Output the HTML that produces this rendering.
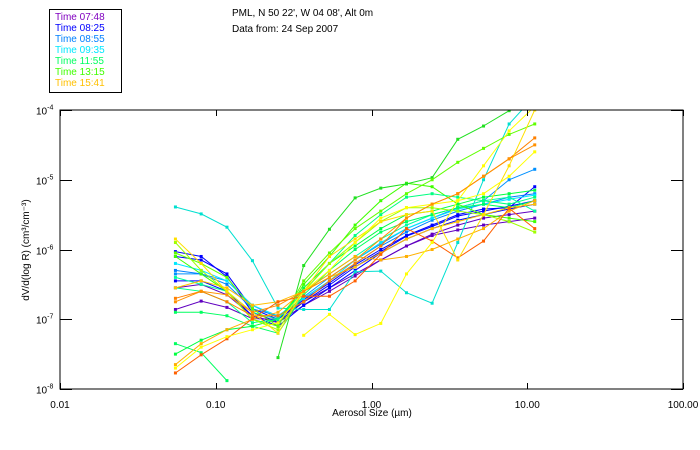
<!DOCTYPE html>
<html><head><meta charset="utf-8">
<style>
body{margin:0;background:#fff;}
svg{display:block;font-family:"Liberation Sans",sans-serif;}
</style></head>
<body>
<svg id="chart" width="700" height="450" viewBox="0 0 700 450" xmlns="http://www.w3.org/2000/svg">
<rect x="0" y="0" width="700" height="450" fill="#fff"/>
<g>
<rect x="49.5" y="9.5" width="72" height="83" fill="#fff" stroke="#000" stroke-width="1"/>
<g id="legendItems" font-size="10"></g>
</g>
<text x="232" y="16" font-size="10">PML, N 50 22', W 04 08', Alt 0m</text>
<text x="232" y="32" font-size="10">Data from: 24 Sep 2007</text>
<defs><clipPath id="plotClip"><rect x="60" y="110" width="623" height="279"/></clipPath></defs>
<g id="series" clip-path="url(#plotClip)"></g>
<rect x="60" y="110" width="623" height="279" fill="none" stroke="#000" stroke-width="1"/>
<g id="axes" font-size="10"></g>
<text x="372" y="416" font-size="10" text-anchor="middle">Aerosol Size (µm)</text>
<text transform="translate(29,250) rotate(-90)" font-size="10" text-anchor="middle">dV/d(log R) (cm³/cm⁻³)</text>
</svg>
<script>
const sizes = [0.0551,0.0806,0.118,0.172,0.251,0.367,0.537,0.785,1.147,1.677,2.45,3.58,5.24,7.65,11.17];
const xTicks = [0.01,0.1,1,10,100];
const xTickLabels = ["0.01","0.10","1.00","10.00","100.00"];
const yTickExps = [-4,-5,-6,-7,-8];
const legendLabels = ["Time 07:48","Time 08:25","Time 08:55","Time 09:35","Time 11:55","Time 13:15","Time 15:41"];
const legendColors = ["#8000c0","#0000ff","#0080ff","#00e8ff","#00ff60","#40ff00","#ffc000"];
const seriesColors = ["#6000c0","#6000c0","#0000ff","#0000ff","#0000ff","#0080ff","#0090ff","#00e0d0","#00e8ff","#00ffa0","#00ff60","#00ff60","#40ff00","#00ff40","#20e020","#60ff00","#00ff80","#a0ff00","#ffc000","#ffb000","#ff6000","#ff8000","#ffff00","#ffe000","#ffff00","#ff9000"];
const s01 = [-6.86,-6.74,-6.83,-6.99,-7.0,-6.75,-6.55,-6.35,-6.15,-5.95,-5.80,-5.72,-5.65,-5.60,-5.55];
const s02 = [-6.55,-6.5,-6.65,-6.95,-7.05,-6.8,-6.6,-6.38,-6.15,-5.95,-5.78,-5.65,-5.55,-5.5,-5.45];
const s03 = [-6.03,-6.10,-6.39,-6.90,-7.04,-6.75,-6.51,-6.25,-6.03,-5.81,-5.67,-5.52,-5.45,-5.38,-5.30];
const s04 = [-6.45,-6.45,-6.6,-6.95,-7.1,-6.8,-6.55,-6.3,-6.05,-5.85,-5.7,-5.58,-5.5,-5.42,-5.35];
const s05 = [-6.1,-6.15,-6.35,-6.85,-7.0,-6.72,-6.48,-6.22,-6.0,-5.8,-5.65,-5.5,-5.42,-5.4,-5.1];
const s06 = [-6.3,-6.35,-6.5,-6.85,-6.95,-6.7,-6.45,-6.2,-5.95,-5.75,-5.58,-5.45,-5.35,-5.25,-5.2];
const s07 = [-6.35,-6.35,-6.45,-6.8,-6.98,-6.68,-6.4,-6.15,-5.92,-5.7,-5.55,-5.4,-5.3,-5.0,-4.85];
const s08 = [-5.39,-5.49,-5.68,-6.16,-6.84,-6.86,-6.86,-6.32,-6.31,-6.62,-6.77,-5.9,-5.0,-4.2,-3.8];
const s09 = [-6.2,-6.3,-6.45,-6.8,-6.95,-6.7,-6.45,-6.15,-5.9,-5.7,-5.55,-5.42,-5.35,-5.28,-5.22];
const s10 = [-6.4,-6.5,-6.6,-6.9,-7.0,-6.6,-6.35,-6.1,-5.85,-5.65,-5.5,-5.4,-5.3,-5.25,-5.45];
const s11 = [-7.35,-7.48,-7.88,null,null,null,null,null,null,null,null,null,null,null,null];
const s12 = [-6.9,-6.9,-6.95,-7.1,-7.2,-6.65,-6.3,-6.0,-5.75,-5.6,-5.5,-5.4,-5.35,-5.4,-5.3];
const s13 = [-6.1,-6.35,-6.6,-7.0,-7.1,-6.5,-6.1,-5.65,-5.3,-5.05,-5.1,-5.35,-5.5,-5.55,-5.6];
const s14 = [-7.5,-7.3,-7.15,-7.1,-7.0,-6.55,-6.2,-5.95,-5.7,-5.5,-5.45,-5.35,-5.25,-5.2,-5.15];
const s15 = [null,null,null,null,-7.55,-6.23,-5.71,-5.26,-5.12,-5.06,-4.97,-4.42,-4.23,-4.01,-3.9];
const s16 = [-6.05,-6.2,-6.4,-6.85,-7.1,-6.45,-6.05,-5.7,-5.45,-5.2,-5.0,-4.75,-4.55,-4.35,-4.2];
const s17 = [-6.55,-6.6,-6.75,-7.05,-7.0,-6.6,-6.2,-5.8,-5.5,-5.25,-5.2,-5.25,-5.3,-5.35,-5.25];
const s18 = [-5.9,-6.3,-6.6,-7.0,-7.15,-6.6,-6.2,-5.9,-5.6,-5.4,-5.4,-5.45,-5.5,-5.6,-5.75];
const s19 = [-6.55,-6.45,-6.55,-6.8,-6.75,-6.6,-6.4,-6.25,-6.05,-5.85,-5.7,-5.6,-5.5,-5.4,-5.35];
const s20 = [-7.65,-7.35,-7.15,-7.0,-6.9,-6.6,-6.35,-6.1,-6.15,-6.1,-6.0,-5.85,-5.7,-5.45,-5.3];
const s21 = [-7.77,-7.51,-7.28,-6.99,-6.75,-6.67,-6.67,-6.45,-6.07,-5.70,-5.88,-6.12,-5.88,-5.41,-5.7];
const s22 = [-6.7,-6.6,-6.75,-6.95,-6.95,-6.75,-6.45,-6.2,-5.95,-5.55,-5.35,-5.2,-4.95,-4.7,-4.4];
const s23 = [null,null,null,null,null,-7.23,-6.93,-7.22,-7.06,-6.35,-5.90,-5.3,-4.8,-4.3,-3.95];
const s24 = [-5.85,-6.2,-6.6,-6.9,-7.2,-6.6,-6.1,-5.85,-5.6,-5.5,-5.45,-6.15,-5.5,-4.8,-4.0];
const s25 = [-7.7,-7.4,-7.25,-7.15,-7.05,-6.6,-6.3,-5.9,-5.55,-5.4,-5.35,-5.3,-5.2,-4.95,-4.6];
const s26 = [-6.75,-6.6,-6.65,-6.9,-6.8,-6.6,-6.4,-6.15,-5.85,-5.55,-5.35,-5.2,-4.95,-4.7,-4.5];
const seriesLogValues = [s01,s02,s03,s04,s05,s06,s07,s08,s09,s10,s11,s12,s13,s14,s15,s16,s17,s18,s19,s20,s21,s22,s23,s24,s25,s26];

const NS = "http://www.w3.org/2000/svg";
const X0 = 60, X1 = 683, Y0 = 110, Y1 = 389;
function xScale(v){ return X0 + (Math.log10(v) + 2) / 4 * (X1 - X0); }
function yScale(e){ return Y0 + (-4 - e) / 4 * (Y1 - Y0); }
function mk(tag, attrs, parent){ const el = document.createElementNS(NS, tag); for (const k in attrs) el.setAttribute(k, attrs[k]); parent.appendChild(el); return el; }

const axes = document.getElementById('axes');
xTicks.forEach((t, i) => {
  const x = Math.round(xScale(t)) + 0.5;
  const tb = mk('line', {x1:x, x2:x, y1:Y1, y2:Y1-6, stroke:'#000'}, axes);
  
  
  const tt = mk('line', {x1:x, x2:x, y1:Y0, y2:Y0+6, stroke:'#000'}, axes);
  
  
  const lb = mk('text', {x:xScale(t), y:408, 'text-anchor':'middle'}, axes);
  lb.textContent = xTickLabels[i];
  
  
});
yTickExps.forEach(e => {
  const y = Math.round(yScale(e)) + 0.5;
  const tl = mk('line', {x1:X0, x2:X0+12, y1:y, y2:y, stroke:'#000'}, axes);
  
  
  const tr = mk('line', {x1:X1, x2:X1-12, y1:y, y2:y, stroke:'#000'}, axes);
  
  
  const lb = mk('text', {x:36, y:y+4}, axes);
  
  
  lb.textContent = '10';
  const sup = mk('tspan', {dy:-5, 'font-size':7}, lb);
  sup.textContent = String(e);
});

const sg = document.getElementById('series');
seriesLogValues.forEach((arr, si) => {
  const g = mk('g', {}, sg);
  
  
  const col = seriesColors[si];
  let d = '', pen = false;
  arr.forEach((v, i) => {
    if (v === null) { pen = false; return; }
    d += (pen ? 'L' : 'M') + xScale(sizes[i]).toFixed(1) + ' ' + yScale(v).toFixed(1) + ' ';
    pen = true;
  });
  mk('path', {d:d, fill:'none', stroke:col, 'stroke-width':1}, g);
  arr.forEach((v, i) => {
    if (v === null) return;
    const p = mk('rect', {x:xScale(sizes[i])-1.5, y:yScale(v)-1.5, width:3, height:3, fill:col}, g);
    
    
  });
});

const lg = document.getElementById('legendItems');
legendLabels.forEach((l, i) => {
  const t = mk('text', {x:55, y:20 + i*11, fill:legendColors[i]}, lg);
  
  
  t.textContent = l;
});
</script>
</body></html>
